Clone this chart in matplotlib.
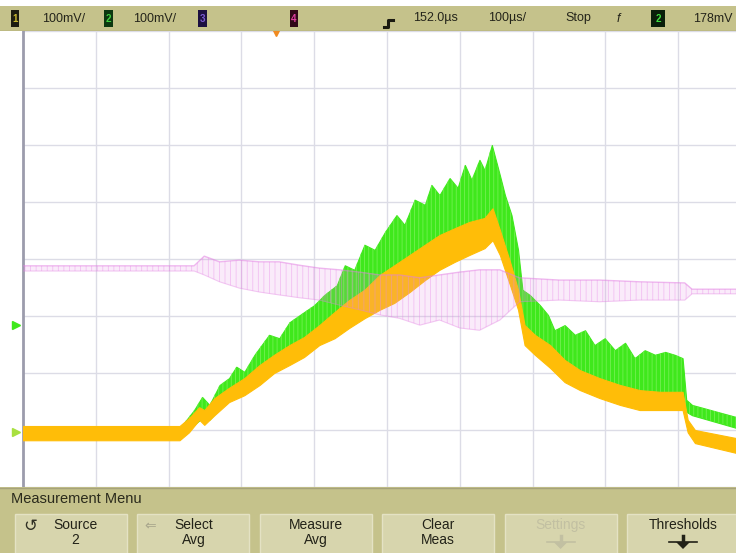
import matplotlib
matplotlib.use("Agg")
import matplotlib.pyplot as plt
from matplotlib.patches import Rectangle, Polygon

plt.rcParams['font.family'] = ['Liberation Sans', 'DejaVu Sans']
plt.rcParams['hatch.linewidth'] = 0.6

# screen is 10 x 8 divisions; x = time div from left, y = volt div from bottom
# channel 2 (green) envelope
ch2_x = [0.00, 2.15, 2.19, 2.35, 2.46, 2.56, 2.70, 2.83, 2.93, 3.04, 3.18, 3.38, 3.52, 3.66,
         3.84, 4.00, 4.14, 4.31, 4.42, 4.55, 4.69, 4.83, 4.97, 5.13, 5.24, 5.38, 5.52, 5.61,
         5.72, 5.86, 5.97, 6.07, 6.16, 6.27, 6.34, 6.44, 6.55, 6.62, 6.71, 6.80, 6.86, 6.96,
         7.10, 7.21, 7.30, 7.44, 7.58, 7.72, 7.85, 7.99, 8.13, 8.27, 8.40, 8.54, 8.68, 8.82,
         8.95, 9.06, 9.11, 9.19, 9.79]
ch2_hi = [1.04, 1.04, 1.09, 1.35, 1.58, 1.44, 1.79, 1.91, 2.11, 2.02, 2.32, 2.67, 2.61, 2.89,
          3.05, 3.19, 3.37, 3.54, 3.89, 3.81, 4.25, 4.16, 4.47, 4.77, 4.60, 5.04, 4.95, 5.30,
          5.12, 5.42, 5.25, 5.65, 5.39, 5.74, 5.56, 6.00, 5.47, 5.12, 4.77, 4.16, 3.46, 3.37,
          3.19, 3.02, 2.75, 2.84, 2.67, 2.75, 2.49, 2.61, 2.40, 2.53, 2.26, 2.40, 2.32, 2.37,
          2.32, 2.26, 1.53, 1.44, 1.23]
ch2_lo = [0.89, 0.89, 0.91, 1.09, 1.21, 1.18, 1.39, 1.53, 1.67, 1.67, 1.84, 2.05, 2.19, 2.32,
          2.49, 2.67, 2.75, 2.93, 3.07, 3.19, 3.28, 3.42, 3.63, 3.77, 3.95, 4.02, 4.16, 4.25,
          4.33, 4.42, 4.47, 4.54, 4.60, 4.65, 4.65, 4.77, 4.42, 4.16, 3.81, 3.37, 2.84, 2.67,
          2.49, 2.40, 2.23, 2.14, 2.02, 1.96, 1.88, 1.84, 1.74, 1.70, 1.67, 1.65, 1.65, 1.65,
          1.65, 1.65, 1.32, 1.26, 1.04]

# channel 1 (orange) envelope
ch1_x = [0.00, 2.15, 2.28, 2.42, 2.49, 2.63, 2.83, 3.04, 3.25, 3.45, 3.66, 3.86, 4.07, 4.28,
         4.48, 4.69, 4.90, 5.10, 5.31, 5.52, 5.72, 5.93, 6.13, 6.34, 6.45, 6.55, 6.69, 6.80,
         6.89, 7.03, 7.24, 7.44, 7.65, 7.92, 8.20, 8.47, 8.75, 9.06, 9.13, 9.23, 9.79]
ch1_hi = [1.07, 1.07, 1.21, 1.40, 1.35, 1.56, 1.74, 1.91, 2.14, 2.32, 2.49, 2.63, 2.84, 3.07,
          3.28, 3.46, 3.72, 3.89, 4.07, 4.25, 4.42, 4.54, 4.65, 4.72, 4.89, 4.51, 3.95, 3.46,
          2.84, 2.67, 2.49, 2.23, 2.05, 1.91, 1.79, 1.70, 1.67, 1.67, 1.18, 1.00, 0.86]
ch1_lo = [0.82, 0.82, 0.96, 1.18, 1.09, 1.26, 1.49, 1.61, 1.79, 2.00, 2.14, 2.28, 2.49, 2.61,
          2.79, 2.96, 3.11, 3.23, 3.42, 3.63, 3.81, 3.95, 4.07, 4.19, 4.33, 4.07, 3.54, 3.11,
          2.49, 2.32, 2.09, 1.84, 1.70, 1.56, 1.44, 1.35, 1.35, 1.35, 0.96, 0.77, 0.60]

# channel 4 (pink) envelope
ch4_x = [0.00, 2.35, 2.49, 2.70, 2.97, 3.25, 3.52, 3.80, 4.07, 4.35, 4.62, 4.90, 5.17, 5.45,
         5.72, 6.00, 6.27, 6.55, 6.82, 7.37, 7.92, 8.47, 9.09, 9.19, 9.79]
ch4_hi = [3.88, 3.88, 4.05, 3.95, 3.98, 3.95, 3.95, 3.89, 3.84, 3.81, 3.77, 3.72, 3.72, 3.67,
          3.72, 3.77, 3.81, 3.81, 3.67, 3.63, 3.63, 3.60, 3.58, 3.47, 3.47]
ch4_lo = [3.79, 3.79, 3.72, 3.60, 3.49, 3.42, 3.37, 3.32, 3.28, 3.19, 3.11, 3.02, 2.96, 2.84,
          2.93, 2.79, 2.75, 2.93, 3.25, 3.28, 3.25, 3.28, 3.28, 3.39, 3.39]

ch1_ref = 0.97
ch2_ref = 2.84
delay_us = 152.0
us_per_div = 100.0

status_items = [("100mV/", 42), ("100mV/", 133), ("152.0µs", 413), ("100µs/", 488),
                ("Stop", 565), ("178mV", 693)]
chan_boxes = [("1", 11, 8, "#1c1c10", "#c8b830"), ("2", 104, 9, "#0c3810", "#40d040"),
              ("3", 198, 9, "#1c1040", "#7a5ad0"), ("4", 290, 8, "#320818", "#e040a0"),
              ("2", 651, 14, "#0a1e0a", "#40e040")]
softkeys = [("Source", "2"), ("Select", "Avg"), ("Measure", "Avg"),
            ("Clear", "Meas"), ("Settings", ""), ("Thresholds", "")]

khaki = "#c5c28b"
green = "#3fe81c"
orange = "#ffbd08"
pink = "#e27ee2"

fig = plt.figure(figsize=(7.36, 5.53), dpi=100)

# ---- scope screen ----
ax = fig.add_axes([23 / 736, 66 / 553, 728 / 736, 456 / 553])
ax.set_xlim(0, 10)
ax.set_ylim(0, 8)
ax.set_xticks(range(11))
ax.set_yticks(range(9))
ax.grid(True, color="#dcdce6", lw=1.0)
ax.tick_params(length=0, labelbottom=False, labelleft=False)
for s in ["top", "right", "bottom"]:
    ax.spines[s].set_visible(False)
ax.spines["left"].set_color("#9c9cac")
ax.spines["left"].set_linewidth(2)

ax.fill_between(ch2_x, ch2_lo, ch2_hi, color=green, lw=0.8, zorder=3)
ax.fill_between(ch2_x, ch2_lo, ch2_hi, facecolor="none", edgecolor="#74f052",
                hatch="||||", lw=0, zorder=3)
ax.fill_between(ch1_x, ch1_lo, ch1_hi, color=orange, lw=0.8, zorder=4)
ax.fill_between(ch4_x, ch4_lo, ch4_hi, facecolor="none", edgecolor="#e88ce8",
                hatch="|||", lw=0, alpha=0.45, zorder=5)
ax.fill_between(ch4_x, ch4_lo, ch4_hi, color=pink, alpha=0.15, lw=0, zorder=5)
ax.plot(ch4_x, ch4_hi, color=pink, alpha=0.55, lw=1.0, zorder=5)
ax.plot(ch4_x, ch4_lo, color=pink, alpha=0.35, lw=0.8, zorder=5)

# ground markers and trigger point
ax.plot(-0.1, ch2_ref, marker=">", color=green, ms=6, clip_on=False)
ax.plot(-0.1, ch1_ref, marker=">", color="#a8e040", ms=6, clip_on=False)
ax.plot(5 - delay_us / us_per_div, 7.98, marker="v", color="#f08a20", ms=6, clip_on=False, zorder=6)

# ---- status bar ----
bar = fig.add_axes([0, 522 / 553, 1, 25 / 553])
bar.set_xlim(0, 736)
bar.set_ylim(31, 6)
bar.set_facecolor(khaki)
bar.set_xticks([])
bar.set_yticks([])
for s in bar.spines.values():
    s.set_visible(False)
bar.axhline(30.5, color="#9e9a66", lw=1)
for txt, x in status_items:
    bar.text(x, 18.5, txt, ha="left", va="center", fontsize=9, color="#24241a")
for num, x, w, face, fg in chan_boxes:
    bar.add_patch(Rectangle((x, 10), w, 17, facecolor=face, edgecolor="none"))
    bar.text(x + w / 2, 18.5, num, ha="center", va="center", fontsize=7,
             color=fg, fontweight="bold")
bar.plot([384, 388, 388, 393], [27, 27, 20, 20], color="#1a1a10", lw=2.2)
bar.text(618, 18.5, "f", ha="center", va="center", fontsize=9, style="italic", color="#24241a")

# ---- softkey menu ----
menu = fig.add_axes([0, 0, 1, 66 / 553])
menu.set_xlim(0, 736)
menu.set_ylim(553, 487)
menu.set_facecolor(khaki)
menu.set_xticks([])
menu.set_yticks([])
for s in menu.spines.values():
    s.set_visible(False)
menu.axhline(487.5, color="#a6a27a", lw=1)
menu.text(11, 499, "Measurement Menu", ha="left", va="center", fontsize=10.5, color="#2a2a1c")

for i, (l1, l2) in enumerate(softkeys):
    c = 71 + 122.4 * i
    menu.add_patch(Rectangle((c - 56, 514), 112, 45, facecolor="#d7d5ad",
                             edgecolor="#e4e2c4", lw=1))
    col = "#c2c0a2" if l1 == "Settings" else "#222218"
    dx = 4 if i == 0 else 0
    menu.text(c + dx, 525, l1, ha="center", va="center", fontsize=10, color=col)
    if l2:
        menu.text(c + dx, 540, l2, ha="center", va="center", fontsize=10, color=col)
    if l1 in ("Settings", "Thresholds"):
        menu.add_patch(Polygon([[c - 7, 542], [c + 7, 542], [c, 549]], closed=True,
                               facecolor=col, edgecolor="none"))
        menu.plot([c - 14, c + 14], [541.5, 541.5], color=col, lw=1.2)
        menu.plot([c, c], [536, 542], color=col, lw=2.5)

menu.text(30, 526, "↺", ha="center", va="center", fontsize=12, color="#303024",
          family="DejaVu Sans")
menu.text(150, 526, "⇐", ha="center", va="center", fontsize=10, color="#a8a68c",
          family="DejaVu Sans")

fig.savefig("out.png", dpi=100)
